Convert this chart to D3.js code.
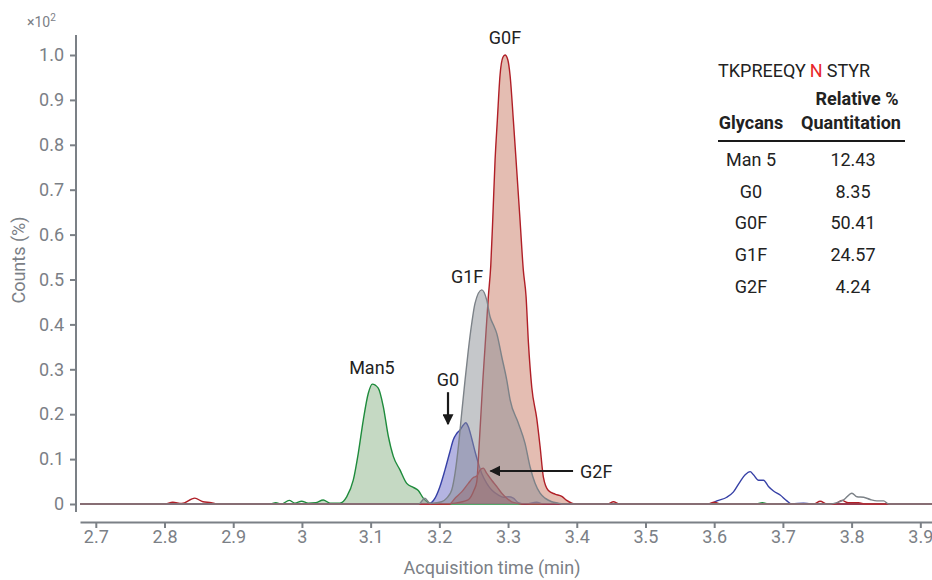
<!DOCTYPE html>
<html>
<head>
<meta charset="utf-8">
<script src="https://cdn.jsdelivr.net/npm/d3@7"></script>
<style>
  body { margin: 0; background: #fff; }
  svg { display: block; font-family: Roboto, "Noto Sans", sans-serif; }
</style>
</head>
<body>
<div id="chart"></div>
<script>
// chromatogram traces, [time (min), counts (x10^2 %)]
const man5Trace = [
  [2.677, 0], [2.953, 0], [2.962, 0.003], [2.97, 0], [2.9815, 0.008], [2.9898, 0.002],
  [2.9995, 0.006], [3.0092, 0.002], [3.02, 0.003], [3.031, 0.009], [3.0408, 0.002],
  [3.0553, 0.002], [3.0651, 0.016], [3.0747, 0.053], [3.082, 0.113], [3.0893, 0.187],
  [3.0965, 0.246], [3.1024, 0.267], [3.1111, 0.258], [3.1184, 0.217], [3.1257, 0.151],
  [3.133, 0.106], [3.1427, 0.076], [3.1525, 0.046], [3.1621, 0.037], [3.1694, 0.030],
  [3.1766, 0.013], [3.1839, 0.003], [3.19, 0], [3.66, 0], [3.67, 0.003], [3.68, 0], [3.917, 0]
];
const g0Trace = [
  [2.677, 0], [3.1839, 0], [3.1937, 0.013], [3.2009, 0.039], [3.2082, 0.076], [3.2155, 0.117],
  [3.2203, 0.143], [3.2253, 0.157], [3.2301, 0.165], [3.2349, 0.176], [3.2384, 0.181],
  [3.2422, 0.172], [3.2471, 0.146], [3.2519, 0.117], [3.2567, 0.091], [3.2617, 0.068],
  [3.269, 0.046], [3.2762, 0.031], [3.2859, 0.020], [3.2932, 0.015], [3.3004, 0.016],
  [3.3077, 0.013], [3.315, 0.003], [3.3247, 0], [3.3417, 0.004], [3.3514, 0],
  [3.5941, 0], [3.6039, 0.007], [3.6184, 0.015], [3.6281, 0.027], [3.6378, 0.05],
  [3.6451, 0.065], [3.6524, 0.072], [3.6572, 0.065], [3.6645, 0.053], [3.6718, 0.053],
  [3.679, 0.039], [3.6863, 0.029], [3.696, 0.02], [3.7058, 0.007], [3.7131, 0],
  [3.73, 0.002], [3.74, 0], [3.917, 0]
];
const g0fTrace = [
  [2.677, 0], [2.80, 0], [2.812, 0.004], [2.825, 0.001], [2.844, 0.013], [2.856, 0.005],
  [2.868, 0.003], [2.876, 0], [3.20, 0], [3.2228, 0.002], [3.2417, 0.009], [3.2505, 0.031],
  [3.2545, 0.05], [3.2575, 0.12], [3.2605, 0.2], [3.2635, 0.28], [3.2665, 0.35],
  [3.2713, 0.462], [3.2748, 0.53], [3.2777, 0.633], [3.2811, 0.766], [3.2844, 0.855],
  [3.2883, 0.955], [3.2925, 0.995], [3.2956, 1.0], [3.2995, 0.99], [3.3029, 0.955],
  [3.3077, 0.855], [3.3126, 0.744], [3.3174, 0.633], [3.3222, 0.521], [3.3262, 0.462],
  [3.3296, 0.36], [3.3345, 0.26], [3.3418, 0.19], [3.3466, 0.128], [3.3514, 0.06],
  [3.3587, 0.03], [3.3684, 0.022], [3.3782, 0.017], [3.3854, 0.008], [3.3927, 0.002],
  [3.40, 0], [3.445, 0], [3.4534, 0.005], [3.462, 0], [3.59, 0], [3.60, 0.004], [3.61, 0],
  [3.745, 0], [3.7543, 0.006], [3.764, 0], [3.775, 0], [3.7859, 0.008], [3.795, 0.003],
  [3.81, 0.003], [3.82, 0], [3.917, 0]
];
const g1fTrace = [
  [2.677, 0], [3.17, 0], [3.179, 0.013], [3.186, 0.002], [3.19, 0.002], [3.2034, 0.005],
  [3.2107, 0.013], [3.218, 0.031], [3.2228, 0.068], [3.2277, 0.128], [3.2325, 0.202],
  [3.2374, 0.276], [3.2422, 0.343], [3.2471, 0.402], [3.2519, 0.447], [3.2617, 0.477],
  [3.269, 0.454], [3.2738, 0.417], [3.2786, 0.399], [3.2835, 0.38], [3.2908, 0.328],
  [3.2981, 0.276], [3.303, 0.232], [3.315, 0.18], [3.3247, 0.135], [3.332, 0.083],
  [3.3393, 0.046], [3.3466, 0.024], [3.3538, 0.013], [3.3636, 0.005], [3.3732, 0.002],
  [3.38, 0], [3.77, 0], [3.7786, 0.003], [3.7883, 0.009], [3.8005, 0.024], [3.8078, 0.016],
  [3.8175, 0.015], [3.8272, 0.01], [3.8369, 0.007], [3.8466, 0.007], [3.854, 0], [3.917, 0]
];
const g2fTrace = [
  [2.677, 0], [3.215, 0], [3.2228, 0.013], [3.2325, 0.027], [3.2422, 0.046], [3.2495, 0.059],
  [3.2544, 0.062], [3.2592, 0.076], [3.264, 0.08], [3.269, 0.068], [3.2762, 0.053],
  [3.2835, 0.039], [3.2908, 0.024], [3.2981, 0.013], [3.3053, 0.005], [3.3126, 0.002],
  [3.32, 0], [3.917, 0]
];

const xTicks = [2.7, 2.8, 2.9, 3.0, 3.1, 3.2, 3.3, 3.4, 3.5, 3.6, 3.7, 3.8, 3.9];
const xTickLabels = ["2.7", "2.8", "2.9", "3", "3.1", "3.2", "3.3", "3.4", "3.5", "3.6", "3.7", "3.8", "3.9"];
const yTicks = [0, 0.1, 0.2, 0.3, 0.4, 0.5, 0.6, 0.7, 0.8, 0.9, 1.0];
const yTickLabels = ["0", "0.1", "0.2", "0.3", "0.4", "0.5", "0.6", "0.7", "0.8", "0.9", "1.0"];

// table
const glycans = ["Man 5", "G0", "G0F", "G1F", "G2F"];
const quantitation = ["12.43", "8.35", "50.41", "24.57", "4.24"];

// peak labels in data units
const peakLabels = [
  { text: "G0F", t: 3.2956, v: 1.0245, anchor: "middle" },
  { text: "G1F", t: 3.2403, v: 0.492, anchor: "middle" },
  { text: "Man5", t: 3.1019, v: 0.2895, anchor: "middle" },
  { text: "G0", t: 3.2126, v: 0.263, anchor: "middle" },
  { text: "G2F", t: 3.4048, v: 0.058, anchor: "start" }
];
const arrows = [
  { t1: 3.2126, v1: 0.249, t2: 3.2126, v2: 0.178 },
  { t1: 3.3946, v1: 0.0735, t2: 3.2745, v2: 0.0735 }
];

const width = 932, height = 580;
const grey = "#7b8086";

const svg = d3.select("#chart").append("svg")
  .attr("width", width).attr("height", height);

const x = d3.scaleLinear().domain([2.677, 3.917]).range([80, 932]);
const y = d3.scaleLinear().domain([0, 1]).range([504, 55]);

const series = [
  { data: man5Trace, fill: "#8cb487", stroke: "#1e8b3c", fillTo: 3.20, op: 0.5 },
  { data: g0Trace, fill: "#6a6ac4", stroke: "#3640a6", fillTo: 3.36, op: 0.5 },
  { data: g0fTrace, fill: "#c97b66", stroke: "#b01f27", fillTo: 3.40, op: 0.5 },
  { data: g2fTrace, fill: "#9c3b3b", stroke: "#b2333a", fillTo: 3.33, op: 0.42 },
  { data: g1fTrace, fill: "#8b8f95", stroke: "#7c8288", fillTo: 3.40, op: 0.5 }
];

const area = d3.area()
  .x(d => x(d[0])).y0(y(0)).y1(d => y(d[1]))
  .curve(d3.curveMonotoneX);
const line = d3.line()
  .x(d => x(d[0])).y(d => y(d[1]))
  .curve(d3.curveMonotoneX);

const plot = svg.append("g");
series.forEach(s => {
  const fillPts = s.data.filter(d => d[0] > 3.0 && d[0] <= s.fillTo);
  plot.append("path")
    .datum(fillPts)
    .attr("d", area)
    .attr("fill", s.fill)
    .attr("fill-opacity", s.op);
  plot.append("path")
    .datum(s.data)
    .attr("d", line)
    .attr("fill", "none")
    .attr("stroke", s.stroke)
    .attr("stroke-width", 1.4);
});

// axes
const yAxis = svg.append("g")
  .attr("transform", "translate(76,0)")
  .call(d3.axisLeft(y).tickValues(yTicks).tickFormat((d, i) => yTickLabels[i])
    .tickSize(6).tickPadding(6));
yAxis.select(".domain").remove();
yAxis.append("line")
  .attr("x1", 0).attr("x2", 0).attr("y1", 35).attr("y2", 512)
  .attr("stroke", grey).attr("stroke-width", 2);

const xAxis = svg.append("g")
  .attr("transform", "translate(0,522)")
  .call(d3.axisBottom(x).tickValues(xTicks).tickFormat((d, i) => xTickLabels[i])
    .tickSize(6).tickSizeOuter(0).tickPadding(2));
xAxis.select(".domain").attr("stroke", grey).attr("stroke-width", 2);

[yAxis, xAxis].forEach(g => {
  g.selectAll(".tick line").attr("stroke", grey).attr("stroke-width", 2);
  g.selectAll(".tick text")
    .attr("fill", grey)
    .style("font-size", "18px")
    .style("font-family", "Roboto, sans-serif");
});

svg.append("text")
  .attr("x", 27).attr("y", 27)
  .attr("fill", grey).style("font-size", "14px")
  .text("×10")
  .append("tspan").attr("dy", -6).style("font-size", "10px").text("2");

svg.append("text")
  .attr("transform", "translate(25,260) rotate(-90)")
  .attr("text-anchor", "middle")
  .attr("fill", grey).style("font-size", "18px")
  .text("Counts (%)");

svg.append("text")
  .attr("x", 492).attr("y", 574)
  .attr("text-anchor", "middle")
  .attr("fill", grey).style("font-size", "18px")
  .text("Acquisition time (min)");

// peak annotations
svg.append("defs").append("marker")
  .attr("id", "head")
  .attr("viewBox", "0 0 10 10")
  .attr("refX", 9).attr("refY", 5)
  .attr("markerWidth", 5).attr("markerHeight", 5)
  .attr("markerUnits", "strokeWidth")
  .attr("orient", "auto")
  .append("path").attr("d", "M0,0L10,5L0,10Z").attr("fill", "#1a1a1a");

svg.selectAll(".peak-label")
  .data(peakLabels)
  .join("text")
  .attr("class", "peak-label")
  .attr("x", d => x(d.t)).attr("y", d => y(d.v))
  .attr("text-anchor", d => d.anchor)
  .attr("fill", "#222")
  .style("font-size", "18px")
  .text(d => d.text);

svg.selectAll(".arrow")
  .data(arrows)
  .join("line")
  .attr("class", "arrow")
  .attr("x1", d => x(d.t1)).attr("y1", d => y(d.v1))
  .attr("x2", d => x(d.t2)).attr("y2", d => y(d.v2))
  .attr("stroke", "#1a1a1a").attr("stroke-width", 2.2)
  .attr("marker-end", "url(#head)");

// table
const table = svg.append("g").style("font-size", "18px").attr("fill", "#222");
const seq = table.append("text").attr("x", 718).attr("y", 77);
seq.append("tspan").text("TKPREEQY");
seq.append("tspan").attr("dx", 4).attr("fill", "#e8262b").text("N");
seq.append("tspan").attr("dx", 4).text("STYR");

table.append("text").attr("x", 857).attr("y", 105).attr("text-anchor", "middle")
  .style("font-weight", "bold").text("Relative %");
table.append("text").attr("x", 751).attr("y", 129).attr("text-anchor", "middle")
  .style("font-weight", "bold").text("Glycans");
table.append("text").attr("x", 851).attr("y", 129).attr("text-anchor", "middle")
  .style("font-weight", "bold").text("Quantitation");
table.append("line")
  .attr("x1", 718).attr("x2", 905).attr("y1", 141).attr("y2", 141)
  .attr("stroke", "#1a1a1a").attr("stroke-width", 2);

glycans.forEach((g, i) => {
  const yy = 166 + i * 31.7;
  table.append("text").attr("x", 751).attr("y", yy).attr("text-anchor", "middle").text(g);
  table.append("text").attr("x", 853).attr("y", yy).attr("text-anchor", "middle").text(quantitation[i]);
});
</script>
</body>
</html>
